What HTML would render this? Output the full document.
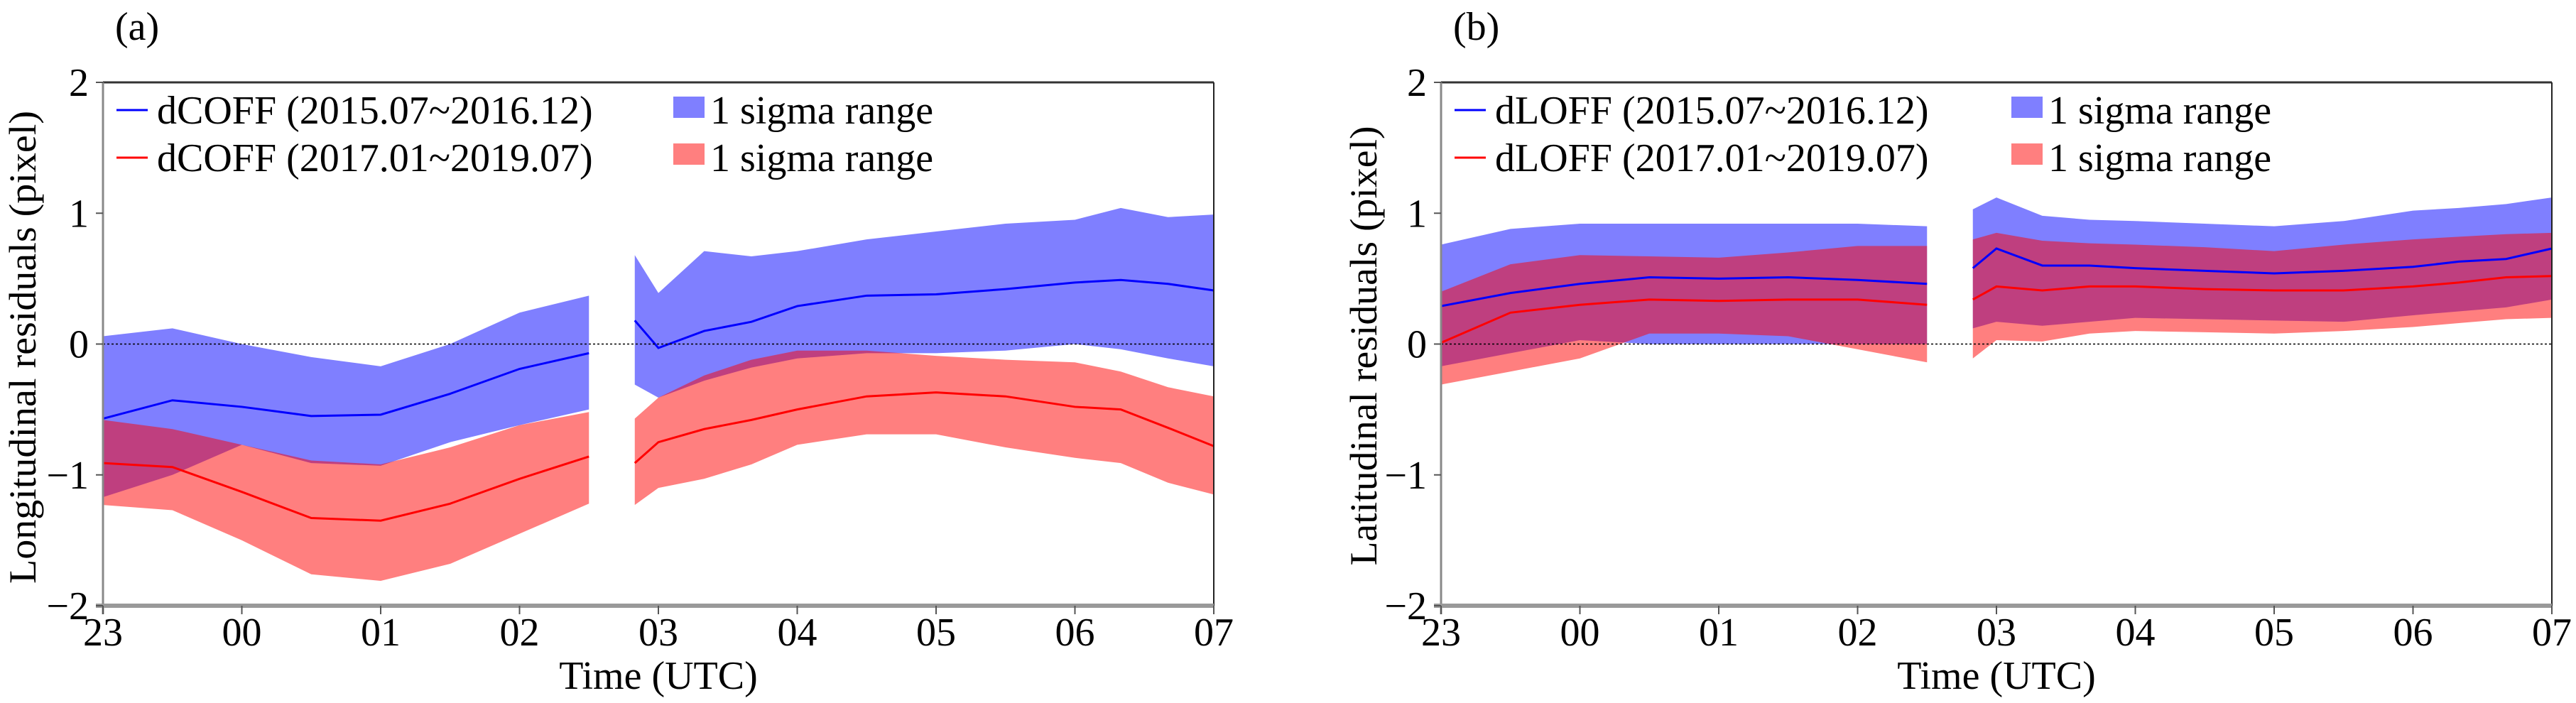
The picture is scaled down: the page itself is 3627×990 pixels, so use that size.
<!DOCTYPE html>
<html><head><meta charset="utf-8">
<style>
html,body{margin:0;padding:0;background:#fff;}
svg{display:block;font-family:"Liberation Serif",serif;}
</style></head>
<body>
<svg id="chart" width="3627" height="990" viewBox="0 0 3627 990" xmlns="http://www.w3.org/2000/svg"></svg>
<script>
// ---- data ----
const xTickLabels = ["23","00","01","02","03","04","05","06","07"];
const yTickValues = [-2,-1,0,1,2];
const yTickLabels = ["\u22122","\u22121","0","1","2"];
const seg1Times = [0,0.5,1,1.5,2,2.5,3,3.5];
const seg2Times = [3.83,4,4.33,4.67,5,5.5,6,6.5,7,7.33,7.67,8];

// panel (a) longitudinal
const aBlueMean1 = [-0.57,-0.43,-0.48,-0.55,-0.54,-0.38,-0.19,-0.07];
const aBlueHi1   = [0.06,0.12,0,-0.1,-0.17,0,0.24,0.37];
const aBlueLo1   = [-1.17,-1.0,-0.77,-0.91,-0.93,-0.75,-0.62,-0.5];
const aRedMean1  = [-0.91,-0.94,-1.13,-1.33,-1.35,-1.22,-1.03,-0.86];
const aRedHi1    = [-0.58,-0.65,-0.77,-0.89,-0.92,-0.79,-0.62,-0.52];
const aRedLo1    = [-1.23,-1.27,-1.5,-1.76,-1.81,-1.68,-1.45,-1.22];
const aBlueMean2 = [0.18,-0.03,0.1,0.17,0.29,0.37,0.38,0.42,0.47,0.49,0.46,0.41];
const aBlueHi2   = [0.68,0.39,0.71,0.67,0.71,0.8,0.86,0.92,0.95,1.04,0.97,0.99];
const aBlueLo2   = [-0.31,-0.41,-0.28,-0.18,-0.11,-0.07,-0.07,-0.05,0,-0.04,-0.11,-0.17];
const aRedMean2  = [-0.91,-0.75,-0.65,-0.58,-0.5,-0.4,-0.37,-0.4,-0.48,-0.5,-0.64,-0.78];
const aRedHi2    = [-0.57,-0.41,-0.24,-0.12,-0.05,-0.05,-0.09,-0.12,-0.14,-0.21,-0.33,-0.4];
const aRedLo2    = [-1.23,-1.1,-1.03,-0.92,-0.77,-0.69,-0.69,-0.79,-0.87,-0.91,-1.06,-1.15];

// panel (b) latitudinal
const bBlueMean1 = [0.29,0.39,0.46,0.51,0.5,0.51,0.49,0.46];
const bBlueHi1   = [0.76,0.88,0.92,0.92,0.92,0.92,0.92,0.9];
const bBlueLo1   = [-0.17,-0.07,0.03,0,0,0,0,0];
const bRedMean1  = [0.01,0.24,0.3,0.34,0.33,0.34,0.34,0.3];
const bRedHi1    = [0.4,0.61,0.68,0.67,0.66,0.7,0.75,0.75];
const bRedLo1    = [-0.31,-0.21,-0.11,0.08,0.08,0.06,-0.04,-0.14];
const bBlueMean2 = [0.58,0.73,0.6,0.6,0.58,0.56,0.54,0.56,0.59,0.63,0.65,0.73];
const bBlueHi2   = [1.03,1.12,0.98,0.95,0.94,0.92,0.9,0.94,1.02,1.04,1.07,1.12];
const bBlueLo2   = [0.12,0.17,0.14,0.17,0.2,0.19,0.18,0.17,0.22,0.25,0.28,0.34];
const bRedMean2  = [0.34,0.44,0.41,0.44,0.44,0.42,0.41,0.41,0.44,0.47,0.51,0.52];
const bRedHi2    = [0.8,0.85,0.79,0.77,0.76,0.74,0.71,0.76,0.8,0.82,0.84,0.85];
const bRedLo2    = [-0.11,0.03,0.02,0.08,0.1,0.09,0.08,0.1,0.13,0.16,0.19,0.2];

const NS = "http://www.w3.org/2000/svg";
const svg = document.getElementById("chart");
function mk(tag, attrs, parent){
  const e = document.createElementNS(NS, tag);
  for (const k in attrs) e.setAttribute(k, attrs[k]);
  (parent||svg).appendChild(e);
  return e;
}

function drawPanel(p){
  const g = mk("g", {});
  
  
  const L = p.left, R = p.left + 1564, T = 116, B = 853;
  const xs = t => L + (t / 8) * (R - L);
  const ys = v => T + (2 - v) / 4 * (B - T);

  function band(times, lo, hi, color, name){
    let d = "";
    times.forEach((t,i)=>{ d += (i?"L":"M") + xs(t) + "," + ys(hi[i]); });
    for (let i = times.length-1; i >= 0; i--) d += "L" + xs(times[i]) + "," + ys(lo[i]);
    d += "Z";
    const e = mk("path", {d:d, fill:color, "fill-opacity":"0.5", stroke:"none"}, g);
    
    
  }
  function line(times, vals, color, name){
    const pts = times.map((t,i)=> xs(t) + "," + ys(vals[i])).join(" ");
    const e = mk("polyline", {points:pts, fill:"none", stroke:color, "stroke-width":"3"}, g);
    
    
  }
  band(seg1Times, p.bLo1, p.bHi1, "#0000ff", "blue-sigma-band-1");
  band(seg2Times, p.bLo2, p.bHi2, "#0000ff", "blue-sigma-band-2");
  band(seg1Times, p.rLo1, p.rHi1, "#ff0000", "red-sigma-band-1");
  band(seg2Times, p.rLo2, p.rHi2, "#ff0000", "red-sigma-band-2");
  line(seg1Times, p.bMean1, "#0000ff", "blue-mean-line-1");
  line(seg2Times, p.bMean2, "#0000ff", "blue-mean-line-2");
  line(seg1Times, p.rMean1, "#ff0000", "red-mean-line-1");
  line(seg2Times, p.rMean2, "#ff0000", "red-mean-line-2");

  const z = mk("line", {x1:L, x2:R, y1:ys(0), y2:ys(0), stroke:"#000", "stroke-width":"1.5", "stroke-dasharray":"3,3"}, g);
  
  

  // spines
  const st = mk("line", {x1:L, x2:R, y1:T, y2:T, stroke:"#333", "stroke-width":"3"}, g);
  
  
  const sr = mk("line", {x1:R, x2:R, y1:T, y2:B+12, stroke:"#222", "stroke-width":"2"}, g);
  
  
  const sl = mk("line", {x1:L, x2:L, y1:T, y2:B+12, stroke:"#888", "stroke-width":"3"}, g);
  
  
  const sb = mk("line", {x1:L-10, x2:R, y1:B, y2:B, stroke:"#999", "stroke-width":"6"}, g);
  
  

  // x ticks
  xTickLabels.forEach((lab,i)=>{
    const x = xs(i);
    const tk = mk("line", {x1:x, x2:x, y1:B, y2:B+12, stroke:"#555", "stroke-width":"2"}, g);
    
    
    const t = mk("text", {x:x, y:909, "font-size":"56", "text-anchor":"middle", fill:"#000"}, g);
    t.textContent = lab;
    
    
  });
  // y ticks
  yTickValues.forEach((v,i)=>{
    const y = ys(v);
    const tk = mk("line", {x1:L-10, x2:L, y1:y, y2:y, stroke:"#555", "stroke-width":"2"}, g);
    
    
    const t = mk("text", {x:L-20, y:y+19, "font-size":"56", "text-anchor":"end", fill:"#000"}, g);
    t.textContent = yTickLabels[i];
    
    
  });

  const xl = mk("text", {x:(L+R)/2, y:970, "font-size":"56", "text-anchor":"middle", fill:"#000"}, g);
  xl.textContent = "Time (UTC)";
  
  

  const yl = mk("text", {x:0, y:0, "font-size":"54", "text-anchor":"middle", fill:"#000",
    textLength:p.ylen, lengthAdjust:"spacingAndGlyphs",
    transform:"translate(" + (p.ylx) + "," + p.yly + ") rotate(-90)"}, g);
  yl.textContent = p.ylabel;
  
  

  const pl = mk("text", {x:L+17, y:56, "font-size":"56", fill:"#000"}, g);
  pl.textContent = p.tag;
  
  

  // legend
  const lg = mk("g", {}, g);
  
  
  const entries = [[p.lab1, "#0000ff", 155, 136], [p.lab2, "#ff0000", 222, 202]];
  entries.forEach(en=>{
    const ln = mk("line", {x1:L+19, x2:L+63, y1:en[2], y2:en[2], stroke:en[1], "stroke-width":"3"}, lg);
    
    
    const tx = mk("text", {x:L+76, y:en[2]+19, "font-size":"56", fill:"#000"}, lg);
    tx.textContent = en[0];
    
    
    const rc = mk("rect", {x:L+803, y:en[3], width:44, height:30, fill:en[1], "fill-opacity":"0.5"}, lg);
    
    
    const t2 = mk("text", {x:L+855, y:en[2]+19, "font-size":"56", fill:"#000"}, lg);
    t2.textContent = "1 sigma range";
    
    
  });
}

drawPanel({id:"longitudinal", left:145, tag:"(a)", ylabel:"Longitudinal residuals (pixel)", ylx:50, yly:489, ylen:666,
  lab1:"dCOFF (2015.07~2016.12)", lab2:"dCOFF (2017.01~2019.07)",
  bMean1:aBlueMean1,bHi1:aBlueHi1,bLo1:aBlueLo1,rMean1:aRedMean1,rHi1:aRedHi1,rLo1:aRedLo1,
  bMean2:aBlueMean2,bHi2:aBlueHi2,bLo2:aBlueLo2,rMean2:aRedMean2,rHi2:aRedHi2,rLo2:aRedLo2});
drawPanel({id:"latitudinal", left:2029, tag:"(b)", ylabel:"Latitudinal residuals (pixel)", ylx:1938, yly:487, ylen:619,
  lab1:"dLOFF (2015.07~2016.12)", lab2:"dLOFF (2017.01~2019.07)",
  bMean1:bBlueMean1,bHi1:bBlueHi1,bLo1:bBlueLo1,rMean1:bRedMean1,rHi1:bRedHi1,rLo1:bRedLo1,
  bMean2:bBlueMean2,bHi2:bBlueHi2,bLo2:bBlueLo2,rMean2:bRedMean2,rHi2:bRedHi2,rLo2:bRedLo2});
</script>
</body></html>
